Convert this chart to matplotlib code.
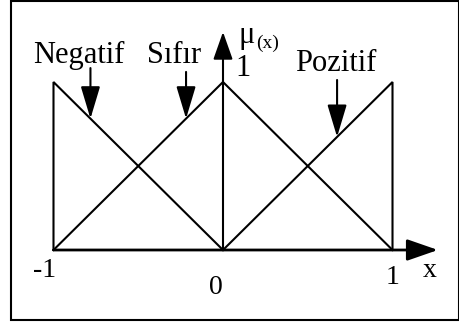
import matplotlib
matplotlib.use("Agg")
import matplotlib.pyplot as plt
from matplotlib.patches import Rectangle

# Membership function data
categories = ["Negatif", "Sıfır", "Pozitif"]
neg_x = [-1, -1, 0]
neg_y = [0, 1, 0]
zero_x = [-1, 0, 1]
zero_y = [0, 1, 0]
pos_x = [0, 1, 1]
pos_y = [0, 1, 0]
tick_vals = [-1, 0, 1]
tick_labels = ["-1", "0", "1"]
arrow_tip_x = [-0.782, -0.218, 0.673]
arrow_tip_y = [0.782, 0.782, 0.673]
arrow_start_y = [1.083, 1.060, 1.012]
label_x = [-1.121, -0.448, 0.425]
label_y = [1.113, 1.113, 1.065]

plt.rcParams['font.family'] = ['Liberation Serif', 'DejaVu Serif']

fig = plt.figure(figsize=(4.6, 3.24), dpi=100)
ax = fig.add_axes([0, 0, 1, 1])
ax.set_xlim(-1.3156, 1.3982)
ax.set_ylim(-0.4405, 1.4881)
ax.axis('off')

lw = 1.5
for xs, ys in [(neg_x, neg_y), (zero_x, zero_y), (pos_x, pos_y)]:
    ax.plot(xs, ys, color='black', lw=lw, solid_joinstyle='miter')

# axes with arrows
ax.annotate('', xy=(1.268, 0), xytext=(-1, 0),
            arrowprops=dict(arrowstyle='-|>,head_length=0.95,head_width=0.33',
                            mutation_scale=20, lw=2.0, color='black',
                            shrinkA=0, shrinkB=0))
ax.annotate('', xy=(0, 1.298), xytext=(0, 0),
            arrowprops=dict(arrowstyle='-|>,head_length=0.85,head_width=0.3',
                            mutation_scale=20, lw=1.5, color='black',
                            shrinkA=0, shrinkB=0))

# label arrows
for name, tx, ty, sy, lx, ly in zip(categories, arrow_tip_x, arrow_tip_y,
                                     arrow_start_y, label_x, label_y):
    ax.annotate('', xy=(tx, ty), xytext=(tx, sy),
                arrowprops=dict(arrowstyle='-|>,head_length=1.0,head_width=0.3',
                                mutation_scale=20, lw=1.5, color='black',
                                shrinkA=0, shrinkB=0))
    ax.text(lx, ly, name, fontsize=22, ha='left', va='baseline')

# tick labels
tick_pos_x = [-1.050, -0.041, 1.003]
tick_pos_y = [-0.125, -0.226, -0.161]
for v, lab, px, py in zip(tick_vals, tick_labels, tick_pos_x, tick_pos_y):
    ax.text(px, py, lab, fontsize=20, ha='center', va='center')

ax.text(1.221, -0.161, 'x', fontsize=20, ha='center', va='baseline')
ax.text(0.118, 1.083, '1', fontsize=22, ha='center', va='center')
ax.text(0.094, 1.235, 'μ', fontsize=22, ha='left', va='baseline')
ax.text(0.195, 1.200, '(x)', fontsize=14, ha='left', va='baseline')

# border
fig.patches.append(Rectangle((11/460, 4/324), 448/460, 319/324,
                             transform=fig.transFigure, fill=False,
                             edgecolor='black', lw=1.5))

fig.savefig('out.png', dpi=100)
